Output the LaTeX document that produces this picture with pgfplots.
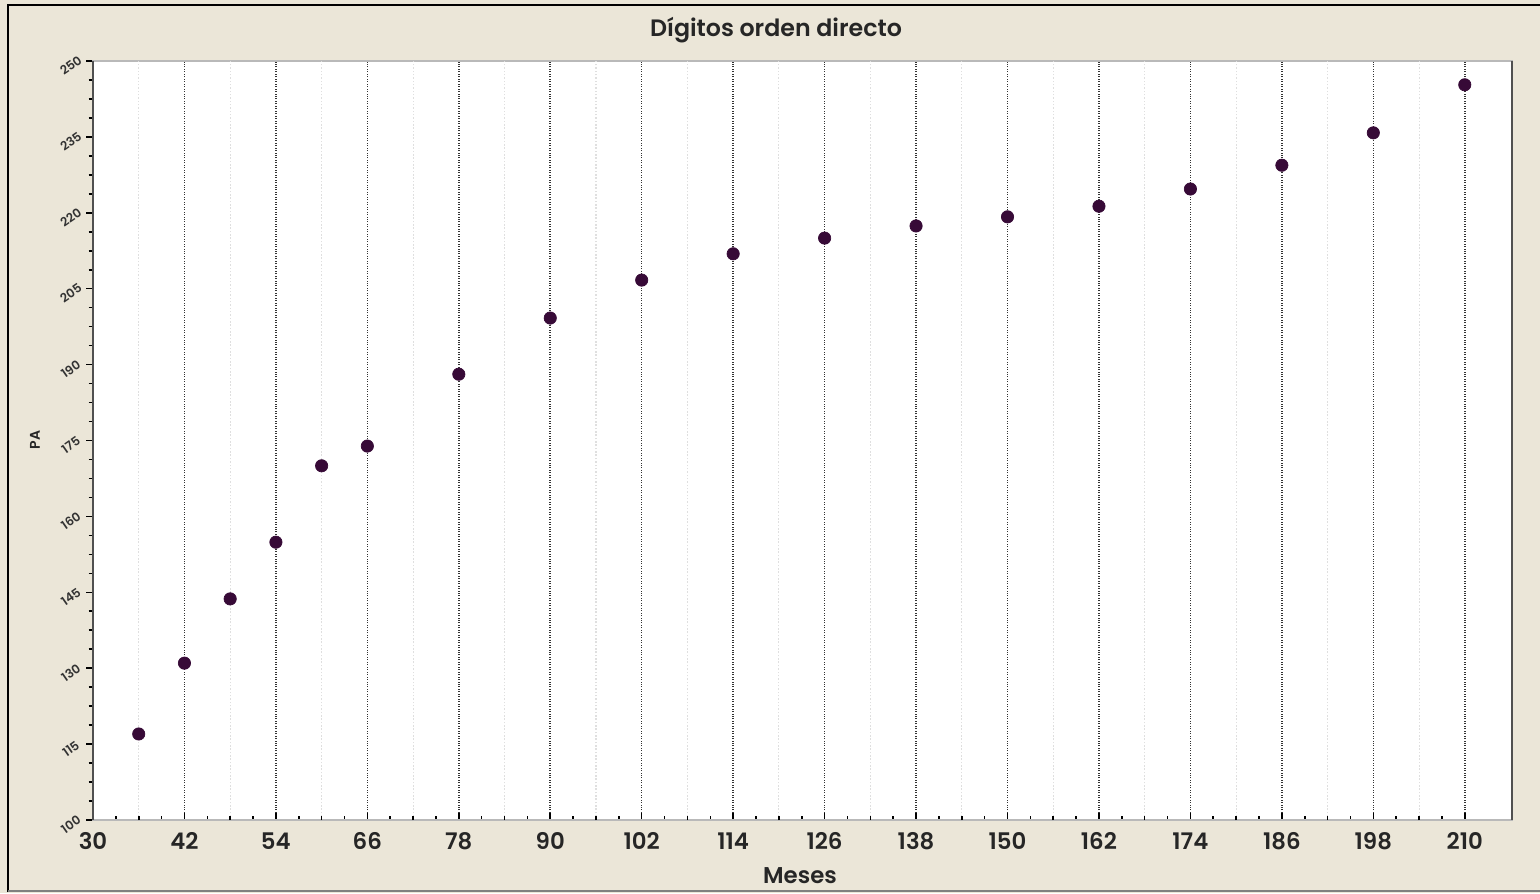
\documentclass[border=0pt]{standalone}
\usepackage{fontspec}
\setmainfont{Poppins}[BoldFont={Poppins SemiBold}]
\usepackage{pgfplots}
\pgfplotsset{compat=1.18}

\definecolor{panel}{RGB}{235,230,216}
\definecolor{dotc}{RGB}{55,10,55}
\definecolor{axisdark}{RGB}{80,80,80}

\pgfplotstableread{
mes pa
36  117.0
42  131.0
48  143.7
54  154.9
60  170.0
66  173.9
78  188.1
90  199.2
102 206.7
114 211.9
126 215.0
138 217.4
150 219.2
162 221.3
174 224.7
186 229.4
198 235.8
210 245.3
}\datos

\begin{document}
\begin{tikzpicture}[x=1cm,y=1cm]
% panel background (1px = 0.02cm)
\fill[panel] (-1.86,-1.46) rectangle (28.94,16.40);
\useasboundingbox (-1.86,-1.46) rectangle (28.94,16.40);
\draw[black, line width=1.2pt] (-1.70,-1.44) -- (-1.70,16.30) -- (28.94,16.30);
\draw[gray, line width=1pt] (-1.70,-1.42) -- (28.94,-1.42);

\begin{axis}[
  scale only axis,
  width=28.38cm, height=15.18cm,
  xmin=30, xmax=216.2,
  ymin=100, ymax=250,
  axis background/.style={fill=white},
  axis line style={draw=gray!55, line width=0.8pt},
  xtick={30,42,...,210},
  ytick={100,115,...,250},
  minor x tick num=3,
  minor y tick num=3,
  xtick align=inside,
  ytick align=outside,
  xtick pos=bottom,
  ytick pos=left,
  major tick length=0.14cm,
  minor tick length=0.09cm,
  tick style={black, line width=0.9pt},
  xmajorgrids,
  major grid style={black!80, densely dotted, line width=0.9pt},
  extra x ticks={36,48,...,204},
  extra x tick labels={},
  extra x tick style={
    grid=major,
    major grid style={gray!25, densely dotted, line width=0.6pt},
    major tick length=0.09cm,
  },
  xticklabel style={font=\fontsize{13}{13}\selectfont\bfseries, text=black!85, yshift=-0.13cm},
  yticklabel style={font=\fontsize{7}{7}\selectfont\bfseries, text=black!80, rotate=35, anchor=center, xshift=-0.30cm, yshift=0.10cm},
  /pgf/number format/assume math mode=true,
  clip=false,
]
\addplot[only marks, mark=*, mark size=3.5pt, mark options={draw=dotc, fill=dotc}] table[x=mes, y=pa] {\datos};
\draw[axisdark, line width=1.4pt] (rel axis cs:0,0) -- (rel axis cs:0,1);
\draw[axisdark, line width=1.4pt] (rel axis cs:1,0) -- (rel axis cs:1,1);
\end{axis}

\node[font=\fontsize{13.5}{13.5}\selectfont\bfseries, text=black!85] at (13.66,15.80) {Dígitos orden directo};
\node[font=\fontsize{13}{13}\selectfont\bfseries, text=black!85] at (14.14,-1.12) {Meses};
\node[font=\fontsize{8}{8}\selectfont\bfseries, text=black!85, rotate=90] at (-1.16,7.60) {PA};
\end{tikzpicture}
\end{document}
